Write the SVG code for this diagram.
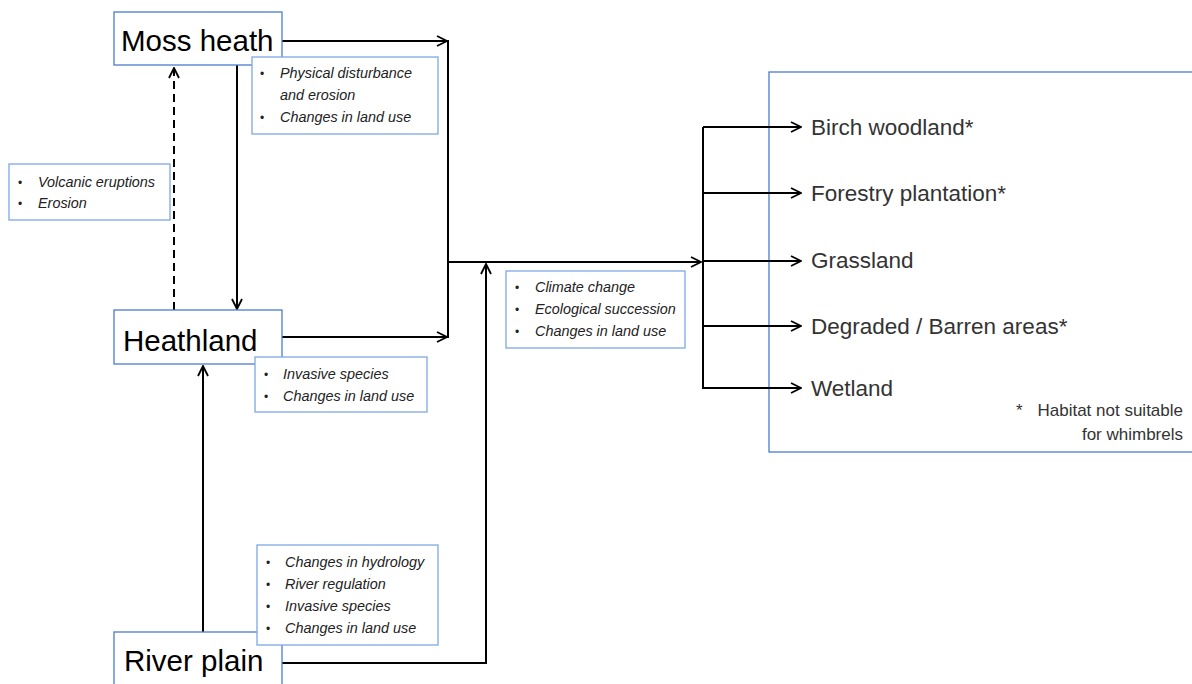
<svg xmlns="http://www.w3.org/2000/svg" width="1192" height="684" viewBox="0 0 1192 684">
<defs>
<marker id="arr" viewBox="0 0 12 12" refX="11" refY="6" markerWidth="12" markerHeight="12" markerUnits="userSpaceOnUse" orient="auto">
<path d="M1,1 L11,6 L1,11" fill="none" stroke="#000" stroke-width="1.8"/>
</marker>
<style>
.node{fill:#fff;stroke:#4A7BD0;stroke-width:1.3}
.call{fill:#fff;stroke:#7EA8E2;stroke-width:1.3}
.big{font-family:"Liberation Sans",Arial,sans-serif;font-size:29.5px;fill:#000}
.it{font-family:"Liberation Sans",Arial,sans-serif;font-size:14.4px;font-style:italic;fill:#222}
.bul{font-family:"Liberation Sans",Arial,sans-serif;font-size:12px;fill:#222}
.out{font-family:"Liberation Sans",Arial,sans-serif;font-size:22.5px;fill:#333}
.note{font-family:"Liberation Sans",Arial,sans-serif;font-size:17px;fill:#333}
.ln{fill:none;stroke:#000;stroke-width:2}
</style>
</defs>
<rect width="1192" height="684" fill="#fff"/>

<g id="outcomes">
<rect x="769" y="72" width="430" height="380" class="node"/>
</g>

<g id="connectors">
<path class="ln" d="M282,41 H447" marker-end="url(#arr)"/>
<path class="ln" d="M282,337 H447" marker-end="url(#arr)"/>
<path class="ln" d="M448,40 V338"/>
<path class="ln" d="M448,262 H701" marker-end="url(#arr)"/>
<path class="ln" d="M282,663 H486 V264" marker-end="url(#arr)"/>
<path class="ln" d="M237,65 V309" marker-end="url(#arr)"/>
<path class="ln" d="M174,310 V68" stroke-dasharray="8,5" marker-end="url(#arr)"/>
<path class="ln" d="M203,632 V366" marker-end="url(#arr)"/>
<path class="ln" d="M703,127 V389"/>
<path class="ln" d="M703,127 H801" marker-end="url(#arr)"/>
<path class="ln" d="M703,193 H801" marker-end="url(#arr)"/>
<path class="ln" d="M703,261 H801" marker-end="url(#arr)"/>
<path class="ln" d="M703,326 H801" marker-end="url(#arr)"/>
<path class="ln" d="M703,388 H801" marker-end="url(#arr)"/>
</g>

<g id="moss-heath">
<rect x="114" y="12" width="168" height="53" class="node"/>
<text x="121" y="51" class="big">Moss heath</text>
</g>

<g id="heathland">
<rect x="114" y="310" width="168" height="54" class="node"/>
<text x="123" y="351" class="big">Heathland</text>
</g>

<g id="river-plain">
<rect x="114" y="632" width="168" height="60" class="node"/>
<text x="124" y="671" class="big">River plain</text>
</g>

<g id="drivers-moss">
<rect x="252" y="57" width="186" height="77" class="call"/>
<text x="260" y="78" class="bul">•</text>
<text x="280" y="78" class="it">Physical disturbance</text>
<text x="280" y="100" class="it">and erosion</text>
<text x="260" y="122" class="bul">•</text>
<text x="280" y="122" class="it">Changes in land use</text>
</g>

<g id="drivers-volcanic">
<rect x="9" y="164" width="161" height="56" class="call"/>
<text x="18" y="187" class="bul">•</text>
<text x="38" y="187" class="it">Volcanic eruptions</text>
<text x="18" y="208" class="bul">•</text>
<text x="38" y="208" class="it">Erosion</text>
</g>

<g id="drivers-heath">
<rect x="255" y="357" width="172" height="55" class="call"/>
<text x="264" y="379" class="bul">•</text>
<text x="283" y="379" class="it">Invasive species</text>
<text x="264" y="401" class="bul">•</text>
<text x="283" y="401" class="it">Changes in land use</text>
</g>

<g id="drivers-river">
<rect x="257" y="545" width="181" height="100" class="call"/>
<text x="266" y="567" class="bul">•</text>
<text x="285" y="567" class="it">Changes in hydrology</text>
<text x="266" y="589" class="bul">•</text>
<text x="285" y="589" class="it">River regulation</text>
<text x="266" y="611" class="bul">•</text>
<text x="285" y="611" class="it">Invasive species</text>
<text x="266" y="633" class="bul">•</text>
<text x="285" y="633" class="it">Changes in land use</text>
</g>

<g id="drivers-main">
<rect x="506" y="271" width="179" height="77" class="call"/>
<text x="515" y="292" class="bul">•</text>
<text x="535" y="292" class="it">Climate change</text>
<text x="515" y="314" class="bul">•</text>
<text x="535" y="314" class="it">Ecological succession</text>
<text x="515" y="336" class="bul">•</text>
<text x="535" y="336" class="it">Changes in land use</text>
</g>

<g id="labels">
<text x="811" y="135" class="out">Birch woodland*</text>
<text x="811" y="201" class="out">Forestry plantation*</text>
<text x="811" y="268" class="out">Grassland</text>
<text x="811" y="334" class="out">Degraded / Barren areas*</text>
<text x="811" y="396" class="out">Wetland</text>
<text x="1016" y="416" class="note">*</text>
<text x="1183" y="416" class="note" text-anchor="end">Habitat not suitable</text>
<text x="1183" y="440" class="note" text-anchor="end">for whimbrels</text>
</g>
</svg>
